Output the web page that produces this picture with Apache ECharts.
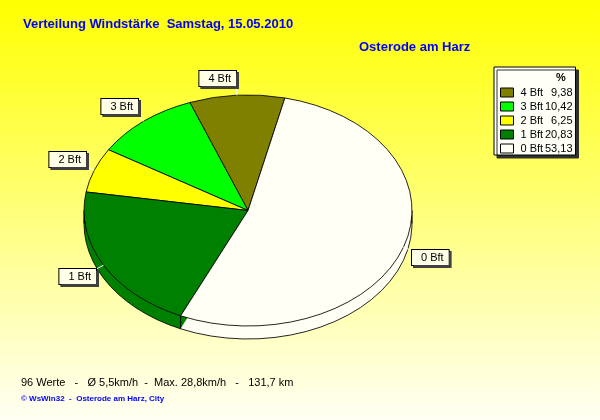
<!DOCTYPE html>
<html><head><meta charset="utf-8">
<script src="https://cdn.jsdelivr.net/npm/echarts@6/dist/echarts.min.js"></script>
<style>html,body{margin:0;padding:0;}#c{width:600px;height:420px;}</style>
</head><body><div id="c"></div>
<script>
// ---- data ----
const categories = ['4 Bft', '3 Bft', '2 Bft', '1 Bft', '0 Bft'];
const percents = [9.38, 10.42, 6.25, 20.83, 53.13];
const colors = ['#808000', '#00FF00', '#FFFF00', '#008000', '#FFFFF5'];
const titleText = 'Verteilung Windstärke  Samstag, 15.05.2010';
const placeText = 'Osterode am Harz';
const legendHeader = '%';
const footerText = '96 Werte   -   Ø 5,5km/h  -  Max. 28,8km/h   -   131,7 km';
const creditText = '© WsWin32  -  Osterode am Harz, City';

// ---- layout ----
const CX = 248, CY = 210.5, RX = 164, RY = 115.5, DEPTH = 13, START_DEG = 77;
const total = percents.reduce((a, b) => a + b, 0);
const cumStart = [];
let acc = 0;
percents.forEach(v => { cumStart.push(acc); acc += v; });
const fmt = v => v.toFixed(2).replace('.', ',');

function makeRender(k) {
  return function (params, api) {
    const v = api.value(0);
    const a0 = (START_DEG + cumStart[k] / total * 360) * Math.PI / 180;
    const a1 = a0 + v / total * 2 * Math.PI;
    const mid = (a0 + a1) / 2;
    const sy = RY / RX;
    const fill = api.visual('color');
    const children = [];
    // side band (offset bottom)
    children.push({
      type: 'sector', x: CX, y: CY + DEPTH, scaleY: sy, z2: 0,
      shape: { cx: 0, cy: 0, r: RX, startAngle: -a0, endAngle: -a1, clockwise: false },
      style: { fill: fill, stroke: null }
    });
    children.push({
      type: 'arc', x: CX, y: CY + DEPTH, scaleY: sy, z2: 1,
      shape: { cx: 0, cy: 0, r: RX, startAngle: -a0, endAngle: -a1, clockwise: false },
      style: { fill: null, stroke: '#000', lineWidth: 1, strokeNoScale: true }
    });
    // vertical edges on the visible side
    const edgeAngles = [a0];
    [Math.PI, 2 * Math.PI, 3 * Math.PI].forEach(t => { if (t > a0 && t < a1) edgeAngles.push(t); });
    edgeAngles.forEach(t => {
      if (Math.sin(t) <= 1e-6) {
        const px = CX + RX * Math.cos(t), py = CY - RY * Math.sin(t);
        children.push({
          type: 'line', z2: 2,
          shape: { x1: px, y1: py, x2: px, y2: py + DEPTH },
          style: { stroke: '#000', lineWidth: 1 }
        });
      }
    });
    // top face
    children.push({
      type: 'sector', x: CX, y: CY, scaleY: sy, z2: 5,
      shape: { cx: 0, cy: 0, r: RX, startAngle: -a0, endAngle: -a1, clockwise: false },
      style: { fill: fill, stroke: '#000', lineWidth: 1, strokeNoScale: true }
    });
    // label + leader
    const c = Math.cos(mid), s = Math.sin(mid);
    const px = CX + RX * c, py = CY - RY * s;
    const ex = px + 9 * c, ey = py - 9 * s;
    children.push({
      type: 'line', z2: 8,
      shape: { x1: px, y1: py, x2: ex, y2: ey },
      style: { stroke: '#FFFFFF', lineWidth: 1 }
    });
    children.push({
      type: 'text', z2: 10, x: Math.round(ex), y: Math.round(ey),
      style: {
        text: categories[k],
        font: '11px "Liberation Sans", Arial, sans-serif',
        fill: '#000',
        align: c < 0 ? 'right' : 'left',
        verticalAlign: s > 0 ? 'bottom' : 'top',
        backgroundColor: '#FFFFE8',
        borderColor: '#000', borderWidth: 1,
        padding: [2, 5, 1, 9], lineHeight: 12,
        shadowColor: '#404040', shadowOffsetX: 2, shadowOffsetY: 2, shadowBlur: 0
      }
    });
    return { type: 'group', children: children };
  };
}

const series = categories.map((name, k) => ({
  type: 'custom', name: name, coordinateSystem: 'none',
  itemStyle: { color: colors[k] },
  data: [[percents[k]]],
  renderItem: makeRender(k),
  silent: true, animation: false
}));

const chart = echarts.init(document.getElementById('c'), null, { renderer: 'canvas' });
chart.setOption({
  animation: false,
  backgroundColor: {
    type: 'linear', x: 0, y: 0, x2: 0, y2: 1,
    colorStops: [{ offset: 0, color: '#FFFF00' }, { offset: 1, color: '#FFFFF4' }]
  },
  title: [
    { text: titleText, left: 23, top: 18, padding: 0,
      textStyle: { color: '#0000FF', fontSize: 13, fontWeight: 'bold', fontFamily: '"Liberation Sans", Arial, sans-serif' } },
    { text: placeText, left: 359, top: 41, padding: 0,
      textStyle: { color: '#0000FF', fontSize: 13, fontWeight: 'bold', fontFamily: '"Liberation Sans", Arial, sans-serif' } },
    { text: legendHeader, left: 556, top: 72, padding: 0,
      textStyle: { color: '#000', fontSize: 11, fontWeight: 'bold', fontFamily: '"Liberation Sans", Arial, sans-serif' } },
    { text: footerText, left: 21, top: 377, padding: 0,
      textStyle: { color: '#000', fontSize: 11, fontWeight: 'normal', fontFamily: '"Liberation Sans", Arial, sans-serif' } },
    { text: creditText, left: 21, top: 395, padding: 0,
      textStyle: { color: '#0000FF', fontSize: 8, fontWeight: 'bold', fontFamily: '"Liberation Sans", Arial, sans-serif' } }
  ],
  legend: {
    orient: 'vertical', left: 494, top: 67,
    padding: [20, 3, 1, 6],
    itemWidth: 13, itemHeight: 9, itemGap: 3,
    icon: 'rect', selectedMode: false,
    backgroundColor: '#FFFFF8', borderColor: '#000', borderWidth: 1, borderRadius: 0,
    shadowColor: '#303030', shadowOffsetX: 3, shadowOffsetY: 3, shadowBlur: 0,
    itemStyle: { borderColor: '#000', borderWidth: 1 },
    data: categories,
    formatter: name => {
      const i = categories.indexOf(name);
      return '{n|' + name + '}{v|' + fmt(percents[i]) + '}';
    },
    textStyle: {
      color: '#000', fontSize: 11, fontFamily: '"Liberation Sans", Arial, sans-serif',
      rich: {
        n: { width: 23, padding: [0, 0, 0, 2], fontSize: 11, color: '#000' },
        v: { width: 29, align: 'right', fontSize: 11, color: '#000' }
      }
    }
  },
  series: series
});
</script>
</body></html>
